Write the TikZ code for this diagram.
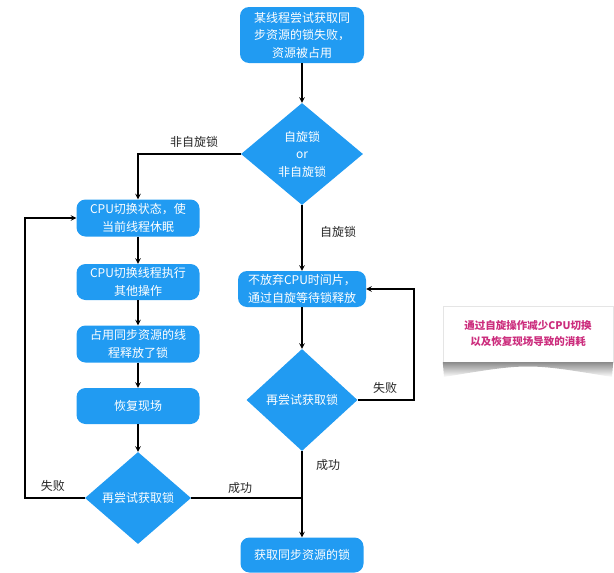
\documentclass[tikz,border=0pt]{standalone}
\usepackage{fontspec}
\setmainfont{Noto Sans CJK SC}
\usetikzlibrary{shapes.geometric}
\definecolor{flowblue}{RGB}{33,155,242}
\definecolor{notepink}{RGB}{204,45,125}
\begin{document}
\begin{tikzpicture}[x=1pt,y=-1pt,>=stealth,
    box/.style={fill=flowblue, rounded corners=9pt, text=white, align=center, inner sep=2pt, font=\fontsize{12}{17.5}\selectfont},
    choice/.style={diamond, fill=flowblue, text=white, align=center, inner sep=1pt, font=\fontsize{12}{17.5}\selectfont},
    flow/.style={->, line width=1.4pt},
    edge/.style={line width=1.4pt},
    lbl/.style={font=\fontsize{12}{14}\selectfont, text=black!85}
]
\useasboundingbox (0,0) rectangle (614,573);

\node[box, minimum width=124pt, minimum height=56pt] (start) at (302,35) {某线程尝试获取同\\步资源的锁失败，\\资源被占用};
\node[choice, minimum width=122pt, minimum height=102pt] (kind) at (302,154) {自旋锁\\or\\非自旋锁};

% non-spin branch
\node[box, minimum width=123pt, minimum height=37pt] (sleep) at (138,218) {CPU切换状态，使\\当前线程休眠};
\node[box, minimum width=123pt, minimum height=36pt] (switch) at (138,282) {CPU切换线程执行\\其他操作};
\node[box, minimum width=123pt, minimum height=37pt] (release) at (138,344) {占用同步资源的线\\程释放了锁};
\node[box, minimum width=123pt, minimum height=36pt] (restore) at (138,406) {恢复现场};
\node[choice, minimum width=106pt, minimum height=92pt] (retryA) at (138,498) {再尝试获取锁};

% spin branch
\node[box, minimum width=128pt, minimum height=36pt] (spin) at (302,289) {不放弃CPU时间片，\\通过自旋等待锁释放};
\node[choice, minimum width=111pt, minimum height=102pt] (retryB) at (302,400) {再尝试获取锁};

\node[box, minimum width=123pt, minimum height=35pt] (got) at (302,555) {获取同步资源的锁};

% side note with curled shadow
\node[fill=white, draw=black!10, minimum width=170pt, minimum height=56pt, align=center, text=notepink, font=\fontsize{10.5}{16}\selectfont\bfseries] (note) at (528,334) {通过自旋操作减少CPU切换\\以及恢复现场导致的消耗};
\shade[top color=black!45, bottom color=white] (note.south west) -- (note.south east) -- (612,377) .. controls (528,363) .. (444,377) -- cycle;

\coordinate (loopA) at (25,498);
\coordinate (loopB) at (414,400);
\coordinate (join) at (302,498);

\draw[flow] (start) -- (kind);
\draw[flow] (kind.west) -| (sleep.north);
\draw[flow] (kind) -- (spin);
\draw[flow] (sleep) -- (switch);
\draw[flow] (switch) -- (release);
\draw[flow] (release) -- (restore);
\draw[flow] (restore) -- (retryA);
\draw[flow] (retryA.west) -- (loopA) |- (sleep.west);
\draw[edge] (retryA.east) -- (join);
\draw[flow] (spin) -- (retryB);
\draw[flow] (retryB.east) -- (loopB) |- (spin.east);
\draw[flow] (retryB.south) -- (join) -- (got.north);

\node[lbl] (nonspin) at (194,142) {非自旋锁};
\node[lbl] (isspin) at (338,232) {自旋锁};
\node[lbl] (failA) at (53,486) {失败};
\node[lbl] (okA) at (240,488) {成功};
\node[lbl] (failB) at (385,388) {失败};
\node[lbl] (okB) at (328,465) {成功};
\end{tikzpicture}
\end{document}
